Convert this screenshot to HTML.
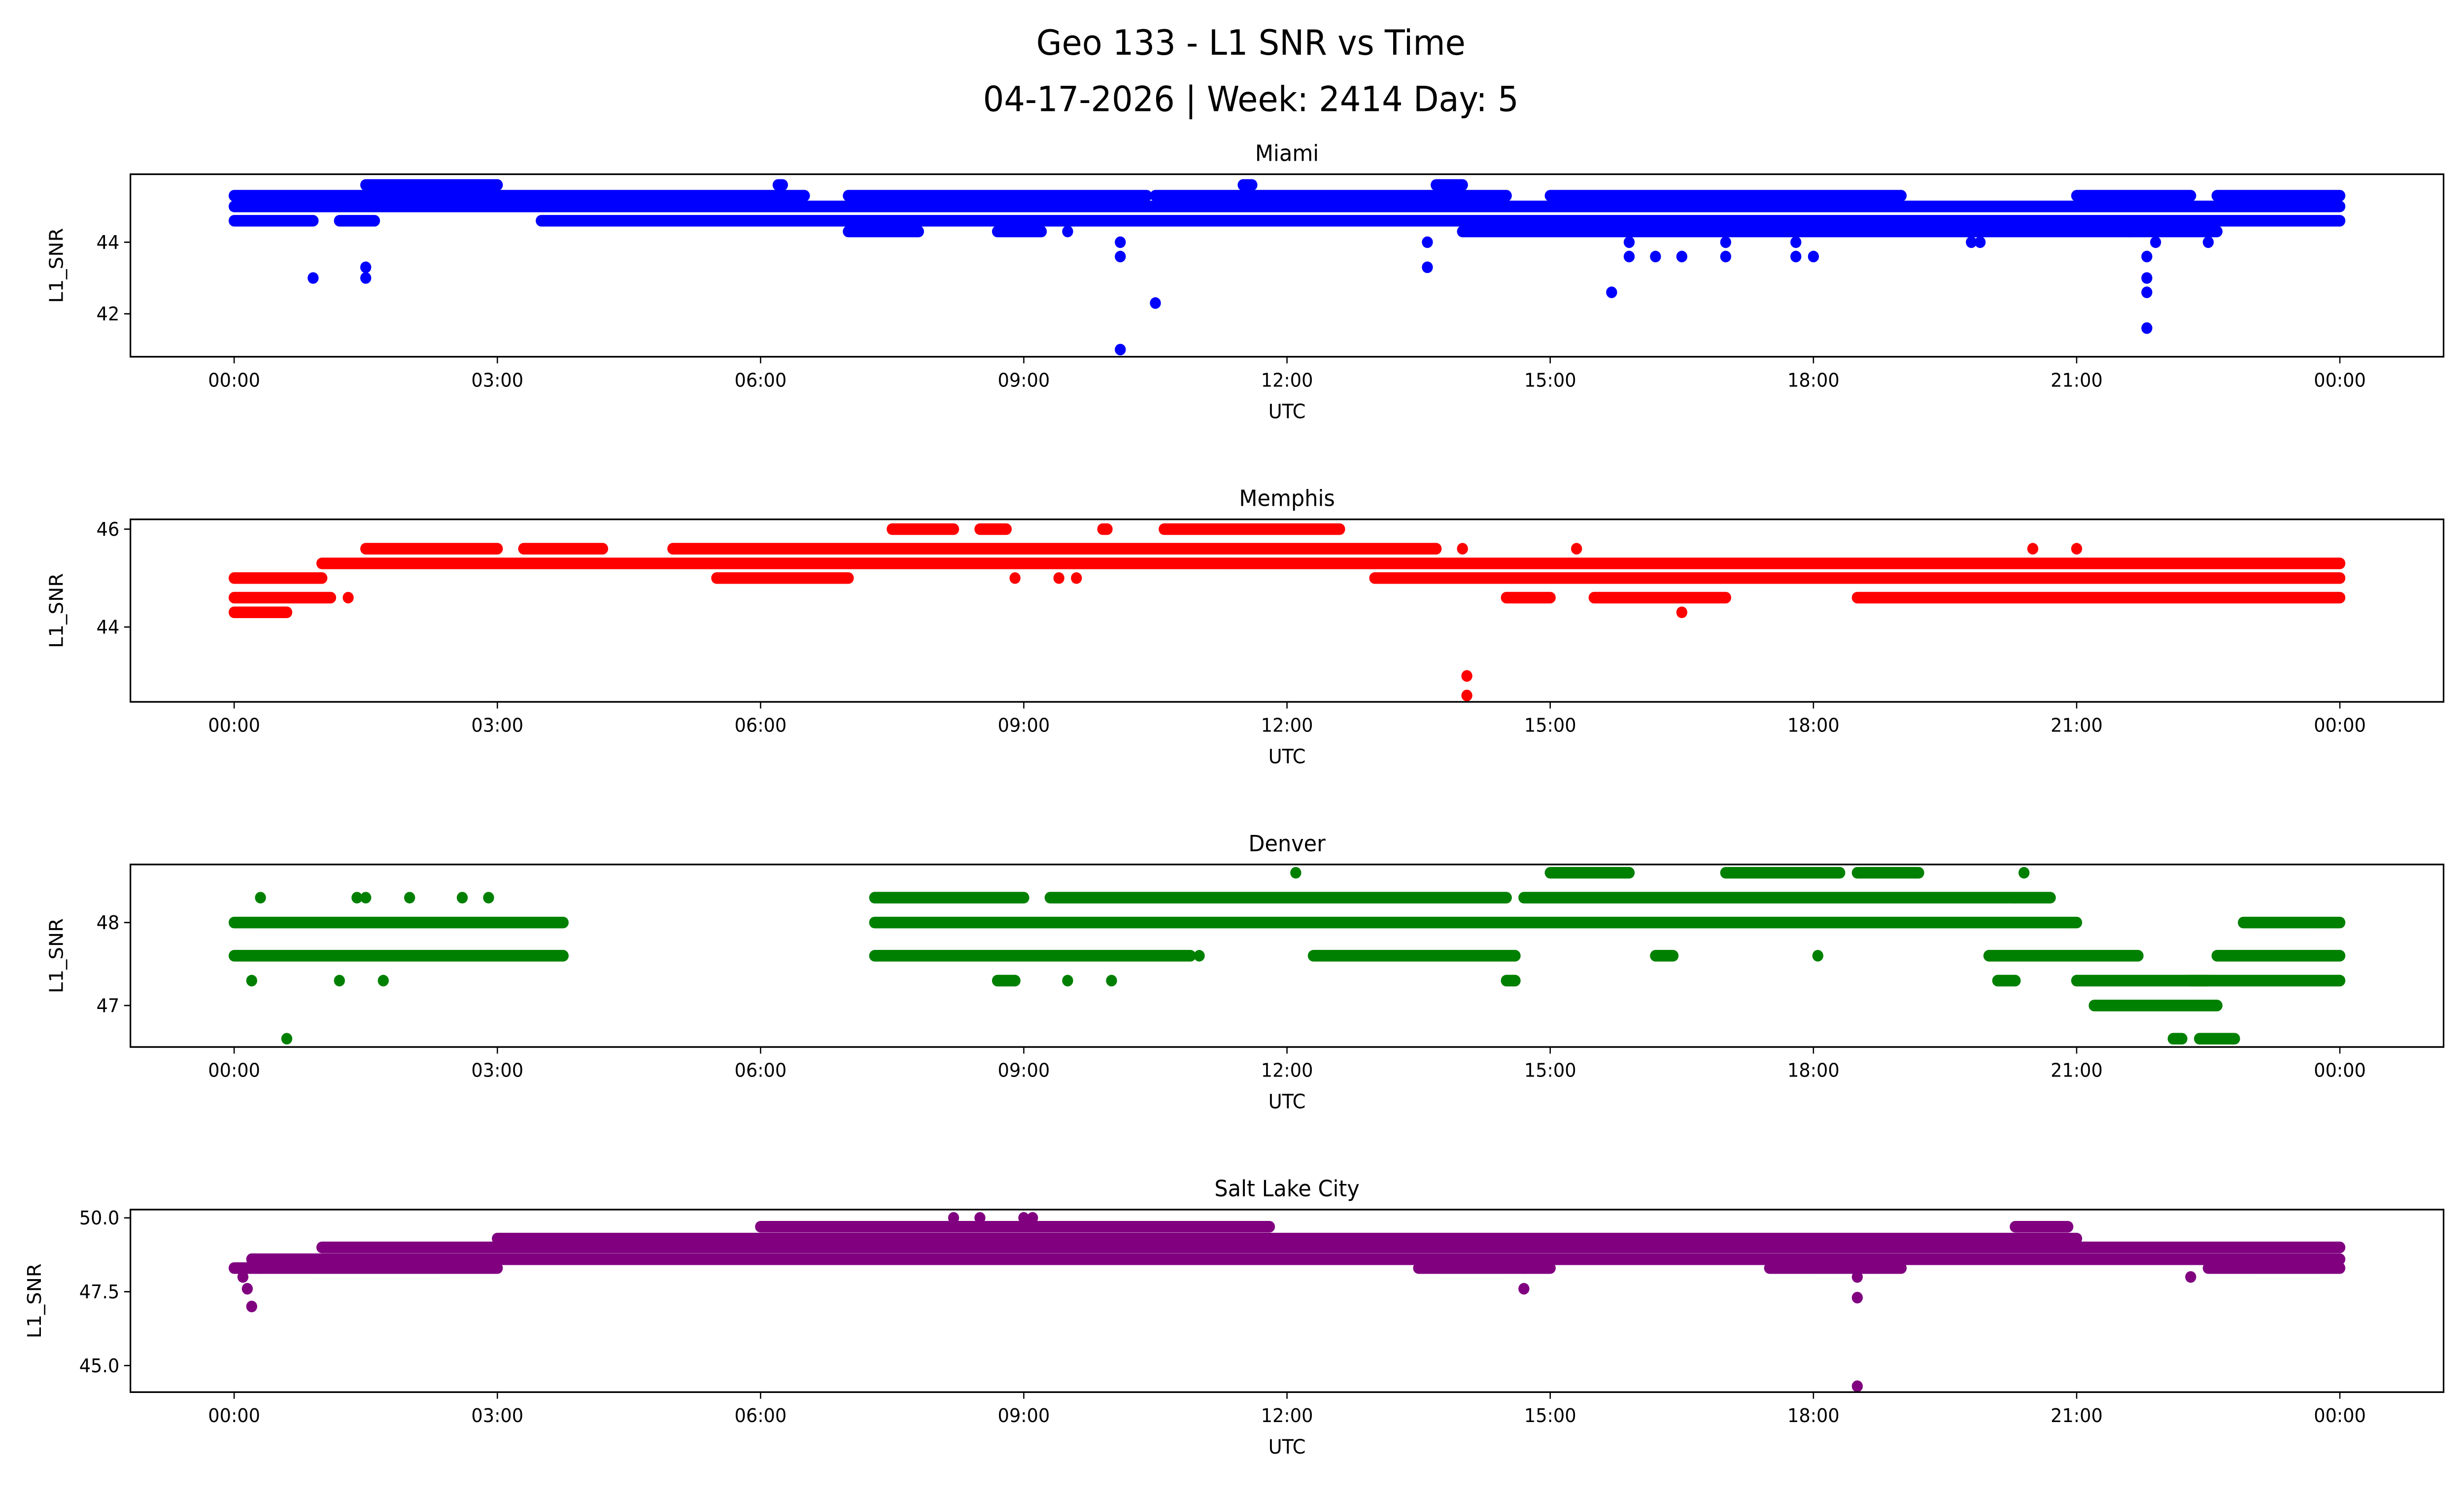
<!DOCTYPE html>
<html>
<head>
<meta charset="utf-8">
<style>
html,body{margin:0;padding:0;background:#fff;overflow:hidden;width:100%;height:100%;}
svg{display:block;position:fixed;left:0;top:0;width:100vw;height:100vh;font-family:"DejaVu Sans","Liberation Sans",sans-serif;}
</style>
</head>
<body>
<svg id="fig" viewBox="0 0 1568 901" preserveAspectRatio="none" xmlns="http://www.w3.org/2000/svg">
<rect width="1568" height="901" fill="#fff"/>
<text x="796" y="33" font-size="21" text-anchor="middle">Geo 133 - L1 SNR vs Time</text>
<text x="796" y="67" font-size="21" text-anchor="middle">04-17-2026 | Week: 2414 Day: 5</text>
</svg>
<script>
// ---- data ----
const xTickHours = [0,3,6,9,12,15,18,21,24];
const xTickLabels = ["00:00","03:00","06:00","09:00","12:00","15:00","18:00","21:00","00:00"];
const panelNames = ["Miami","Memphis","Denver","Salt Lake City"];
const panelColors = ["#0000ff","#ff0000","#008000","#800080"];

// Bands: [startHour, endHour, snr]
const miamiBands = [[0,6.5,45.3],[7,10.4,45.3],[10.5,14.5,45.3],[15,19,45.3],[21,22.3,45.3],[22.6,24,45.3],
  [0,24,45.0],[0,0.9,44.6],[1.2,1.6,44.6],[3.5,24,44.6],[7,7.8,44.3],[8.7,9.2,44.3],[14,21.6,44.3],[21.6,22.6,44.3],
  [1.5,3.0,45.6],[6.2,6.25,45.6],[11.5,11.6,45.6],[13.7,14.0,45.6]];
const miamiPoints = [[0.9,43],[1.5,43.3],[1.5,43],[10.1,41],[10.1,43.6],[10.1,44],[10.5,42.3],[13.6,43.3],[13.6,44],
  [15.7,42.6],[15.9,43.6],[16.2,43.6],[16.5,43.6],[17,43.6],[17,44],[17.8,43.6],[17.8,44],[18,43.6],[21.8,41.6],
  [21.8,42.6],[21.8,43],[21.8,43.6],[21.9,44],[22.5,44],[9.5,44.3],[15.9,44],[19.8,44.0],[19.9,44.0]];
const memphisBands = [[0,1.0,45.0],[5.5,7.0,45.0],[13,24,45.0],[0,1.1,44.6],[14.5,15.0,44.6],[15.5,17.0,44.6],[18.5,24,44.6],
  [0,0.6,44.3],[1,24,45.3],[1.5,3.0,45.6],[3.3,4.2,45.6],[5,12.6,45.6],[12.6,13.7,45.6],
  [7.5,8.2,46.0],[8.5,8.8,46.0],[9.9,9.95,46.0],[10.6,12.6,46.0]];
const memphisPoints = [[14.05,43],[14.05,42.6],[16.5,44.3],[20.5,45.6],[21,45.6],[15.3,45.6],[13.2,45.6],[14,45.6],[1.3,44.6],
  [8.9,45.0],[9.4,45.0],[9.6,45.0],[11.3,45.3]];
const denverBands = [[0,3.75,48.0],[7.3,21,48.0],[22.9,24,48.0],[0,3.75,47.6],[7.3,10.9,47.6],[12.3,14.6,47.6],[16.2,16.4,47.6],
  [20,21.7,47.6],[22.6,24,47.6],[7.3,9,48.3],[9.3,14.5,48.3],[14.7,20.3,48.3],[20.3,20.7,48.3],
  [15,15.9,48.6],[17,18.3,48.6],[18.5,19.2,48.6],[8.7,8.9,47.3],[14.5,14.6,47.3],[20.1,20.3,47.3],[21,22.5,47.3],[22.3,24,47.3],
  [21.2,22.6,47.0],[22.1,22.2,46.6],[22.4,22.8,46.6]];
const denverPoints = [[0.2,47.3],[1.2,47.3],[1.7,47.3],[9.5,47.3],[10,47.3],[0.6,46.6],[12.1,48.6],[20.4,48.6],
  [0.3,48.3],[1.4,48.3],[1.5,48.3],[2.0,48.3],[2.6,48.3],[2.9,48.3],[11.0,47.6],[18.05,47.6]];
const slcBands = [[0.2,24,48.6],[1,24,49.0],[3,13,49.3],[13,19,49.3],[19,21,49.3],[6,11.8,49.7],[20.3,20.9,49.7],
  [0,0.3,48.3],[0.3,3,48.3],[13.5,15,48.3],[17.5,19,48.3],[22.5,24,48.3]];
const slcPoints = [[8.2,50],[8.5,50],[9,50],[9.1,50],[0.1,48],[0.15,47.6],[0.2,47],[14.7,47.6],[14.7,48.3],
  [18.5,48],[18.5,47.3],[18.5,44.3],[22.3,48]];

const yTicks = [[42,44],[44,46],[47,48],[45,47.5,50]];
const yTickLabels = [["42","44"],["44","46"],["47","48"],["45.0","47.5","50.0"]];
const yLimits = [[40.8,45.9],[42.47,46.2],[46.5,48.7],[44.1,50.28]];

const allBands = [miamiBands, memphisBands, denverBands, slcBands];
const allPoints = [miamiPoints, memphisPoints, denverPoints, slcPoints];

// ---- layout ----
const svg = document.getElementById('fig');
const NS = "http://www.w3.org/2000/svg";
const axL = 83, axR = 1555, axH = 110;
const axTops = [105, 313, 521, 729];
const x0 = 149, x1 = 1489;
function xScale(h){ return x0 + (x1 - x0) * h / 24; }
function mk(tag, attrs){ const e = document.createElementNS(NS, tag); for (const k in attrs) e.setAttribute(k, attrs[k]); return e; }

for (let p = 0; p < 4; p++) {
  const top = axTops[p], bot = top + axH;
  const [lo, hi] = yLimits[p];
  const yScale = v => bot - (v - lo) / (hi - lo) * axH;
  const g = mk('g', {});
  
  
  svg.appendChild(g);

  const t = mk('text', {x: (axL + axR) / 2, y: top - 8, 'font-size': 13.5, 'text-anchor': 'middle'});
  
  
  t.textContent = panelNames[p];
  g.appendChild(t);

  const clip = mk('clipPath', {id: 'c' + p});
  clip.appendChild(mk('rect', {x: axL, y: top - 4, width: axR - axL, height: axH + 8}));
  g.appendChild(clip);
  const marks = mk('g', {'clip-path': 'url(#c' + p + ')'});
  
  
  g.appendChild(marks);

  for (const b of allBands[p]) {
    const l = mk('line', {x1: xScale(b[0]), x2: xScale(b[1]), y1: yScale(b[2]), y2: yScale(b[2]),
      stroke: panelColors[p], 'stroke-width': 7, 'stroke-linecap': 'round'});
    
    
    marks.appendChild(l);
  }
  for (const pt of allPoints[p]) {
    const c = mk('circle', {cx: xScale(pt[0]), cy: yScale(pt[1]), r: 3.5, fill: panelColors[p]});
    
    
    marks.appendChild(c);
  }

  const frame = mk('rect', {x: axL, y: top, width: axR - axL, height: axH, fill: 'none', stroke: '#000', 'stroke-width': 1});
  
  
  g.appendChild(frame);

  for (let i = 0; i < xTickHours.length; i++) {
    const x = xScale(xTickHours[i]);
    g.appendChild(mk('line', {x1: x, x2: x, y1: bot, y2: bot + 4, stroke: '#000', 'stroke-width': 0.8}));
    const tl = mk('text', {x: x, y: bot + 18, 'font-size': 11.5, 'text-anchor': 'middle'});
    
    
    tl.textContent = xTickLabels[i];
    g.appendChild(tl);
  }
  const xl = mk('text', {x: (axL + axR) / 2, y: bot + 37, 'font-size': 12, 'text-anchor': 'middle'});
  
  
  xl.textContent = 'UTC';
  g.appendChild(xl);

  for (let i = 0; i < yTicks[p].length; i++) {
    const y = yScale(yTicks[p][i]);
    g.appendChild(mk('line', {x1: axL - 4, x2: axL, y1: y, y2: y, stroke: '#000', 'stroke-width': 0.8}));
    const yl = mk('text', {x: axL - 7, y: y + 4, 'font-size': 11.5, 'text-anchor': 'end'});
    
    
    yl.textContent = yTickLabels[p][i];
    g.appendChild(yl);
  }
  const ytx = p === 3 ? 26 : 40, yty = top + axH / 2;
  const yt = mk('text', {x: ytx, y: yty, 'font-size': 12, 'text-anchor': 'middle', transform: 'rotate(-90 ' + ytx + ' ' + yty + ')'});
  
  
  yt.textContent = 'L1_SNR';
  g.appendChild(yt);
}
</script>
</body>
</html>
